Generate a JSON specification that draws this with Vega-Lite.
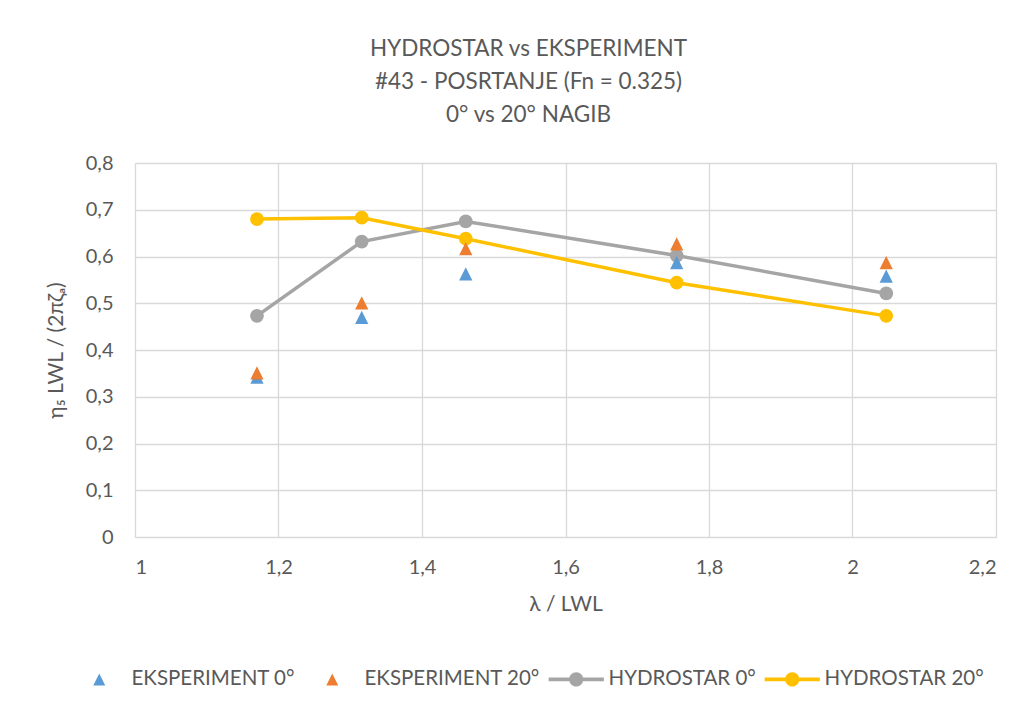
{
  "$schema": "https://vega.github.io/schema/vega-lite/v6.json",
  "width": 861,
  "height": 374,
  "autosize": {"type": "none"},
  "padding": {"left": 135, "top": 163, "right": 29, "bottom": 172},
  "background": "white",
  "title": {
    "text": ["HYDROSTAR vs EKSPERIMENT", "#43 - POSRTANJE (Fn = 0.325)", "0°  vs 20°  NAGIB"],
    "font": "Lato",
    "fontSize": 22.5,
    "fontWeight": "normal",
    "color": "#595959",
    "lineHeight": 33,
    "offset": 27,
    "dx": -37,
    "anchor": "middle"
  },
  "data": {
    "values": [
      {"x": 1.17, "y": 0.342, "series": "EKSPERIMENT 0°"},
      {"x": 1.316, "y": 0.47, "series": "EKSPERIMENT 0°"},
      {"x": 1.461, "y": 0.563, "series": "EKSPERIMENT 0°"},
      {"x": 1.755, "y": 0.587, "series": "EKSPERIMENT 0°"},
      {"x": 2.047, "y": 0.558, "series": "EKSPERIMENT 0°"},
      {"x": 1.17, "y": 0.351, "series": "EKSPERIMENT 20°"},
      {"x": 1.316, "y": 0.501, "series": "EKSPERIMENT 20°"},
      {"x": 1.461, "y": 0.617, "series": "EKSPERIMENT 20°"},
      {"x": 1.755, "y": 0.627, "series": "EKSPERIMENT 20°"},
      {"x": 2.047, "y": 0.587, "series": "EKSPERIMENT 20°"},
      {"x": 1.17, "y": 0.473, "series": "HYDROSTAR 0°"},
      {"x": 1.316, "y": 0.632, "series": "HYDROSTAR 0°"},
      {"x": 1.461, "y": 0.675, "series": "HYDROSTAR 0°"},
      {"x": 1.755, "y": 0.602, "series": "HYDROSTAR 0°"},
      {"x": 2.047, "y": 0.521, "series": "HYDROSTAR 0°"},
      {"x": 1.17, "y": 0.68, "series": "HYDROSTAR 20°"},
      {"x": 1.316, "y": 0.683, "series": "HYDROSTAR 20°"},
      {"x": 1.461, "y": 0.638, "series": "HYDROSTAR 20°"},
      {"x": 1.755, "y": 0.544, "series": "HYDROSTAR 20°"},
      {"x": 2.047, "y": 0.473, "series": "HYDROSTAR 20°"}
    ]
  },
  "encoding": {
    "x": {
      "field": "x", "type": "quantitative",
      "scale": {"domain": [1, 2.2], "nice": false, "zero": false},
      "axis": {
        "title": "λ / LWL",
        "values": [1, 1.2, 1.4, 1.6, 1.8, 2, 2.2],
        "labelExpr": "replace(format(datum.value, '.2~f'), '.', ',')",
        "grid": true, "gridColor": "#D9D9D9", "gridWidth": 1.3,
        "domain": false, "ticks": false,
        "labelFont": "Lato", "labelFontSize": 20, "labelColor": "#595959", "labelPadding": 20,
        "titleFont": "Lato", "titleFontSize": 21, "titleFontWeight": "normal", "titleColor": "#595959", "titlePadding": 16
      }
    },
    "y": {
      "field": "y", "type": "quantitative",
      "scale": {"domain": [0, 0.8], "nice": false},
      "axis": {
        "title": "η₅ LWL / (2πζₐ)",
        "values": [0, 0.1, 0.2, 0.3, 0.4, 0.5, 0.6, 0.7, 0.8],
        "labelExpr": "replace(format(datum.value, '.2~f'), '.', ',')",
        "grid": true, "gridColor": "#D9D9D9", "gridWidth": 1.3,
        "domain": false, "ticks": false,
        "labelFont": "Lato", "labelFontSize": 20, "labelColor": "#595959", "labelPadding": 22,
        "titleFont": "Lato", "titleFontSize": 21, "titleFontWeight": "normal", "titleColor": "#595959", "titlePadding": 19
      }
    },
    "color": {"field": "series", "type": "nominal",
      "scale": {"domain": ["EKSPERIMENT 0°", "EKSPERIMENT 20°", "HYDROSTAR 0°", "HYDROSTAR 20°"], "range": ["#5B9BD5", "#ED7D31", "#A5A5A5", "#FFC000"]},
      "legend": {
        "title": null, "orient": "none", "direction": "horizontal",
        "legendX": -46, "legendY": 506,
        "labelFont": "Lato", "labelFontSize": 20.5, "labelColor": "#595959", "labelLimit": 400,
        "symbolSize": 144, "symbolStrokeWidth": 0, "columnPadding": 8, "labelOffset": 22
      }}
  },
  "layer": [
    {
      "transform": [{"filter": "indexof(datum.series, 'HYDROSTAR') >= 0"}],
      "mark": {"type": "line", "strokeWidth": 3.5}
    },
    {
      "transform": [{"filter": "indexof(datum.series, 'HYDROSTAR') >= 0"}],
      "mark": {"type": "point", "shape": "circle", "filled": true, "opacity": 1, "size": 190}
    },
    {
      "transform": [{"filter": "indexof(datum.series, 'EKSPERIMENT') >= 0"}],
      "mark": {"type": "point", "filled": true, "opacity": 1, "size": 175},
      "encoding": {
        "shape": {"field": "series", "type": "nominal",
          "scale": {"domain": ["EKSPERIMENT 0°", "EKSPERIMENT 20°", "HYDROSTAR 0°", "HYDROSTAR 20°"],
            "range": [
              "M0,-1 L1,1 L-1,1 Z M-4.6,0 L-4.6,0 M4.6,0 L4.6,0",
              "M0,-1 L1,1 L-1,1 Z M-4.6,0 L-4.6,0 M4.6,0 L4.6,0",
              "M-4.6,-0.33 L4.6,-0.33 L4.6,0.33 L-4.6,0.33 Z M-1.17,0 A1.17,1.17 0 1,1 1.17,0 A1.17,1.17 0 1,1 -1.17,0 Z",
              "M-4.6,-0.33 L4.6,-0.33 L4.6,0.33 L-4.6,0.33 Z M-1.17,0 A1.17,1.17 0 1,1 1.17,0 A1.17,1.17 0 1,1 -1.17,0 Z"]},
          "legend": {
            "title": null, "orient": "none", "direction": "horizontal",
            "legendX": -46, "legendY": 506,
            "labelFont": "Lato", "labelFontSize": 20.5, "labelColor": "#595959", "labelLimit": 400,
            "symbolSize": 144, "symbolStrokeWidth": 0, "columnPadding": 8, "labelOffset": 22
          }}
      }
    }
  ]
}
